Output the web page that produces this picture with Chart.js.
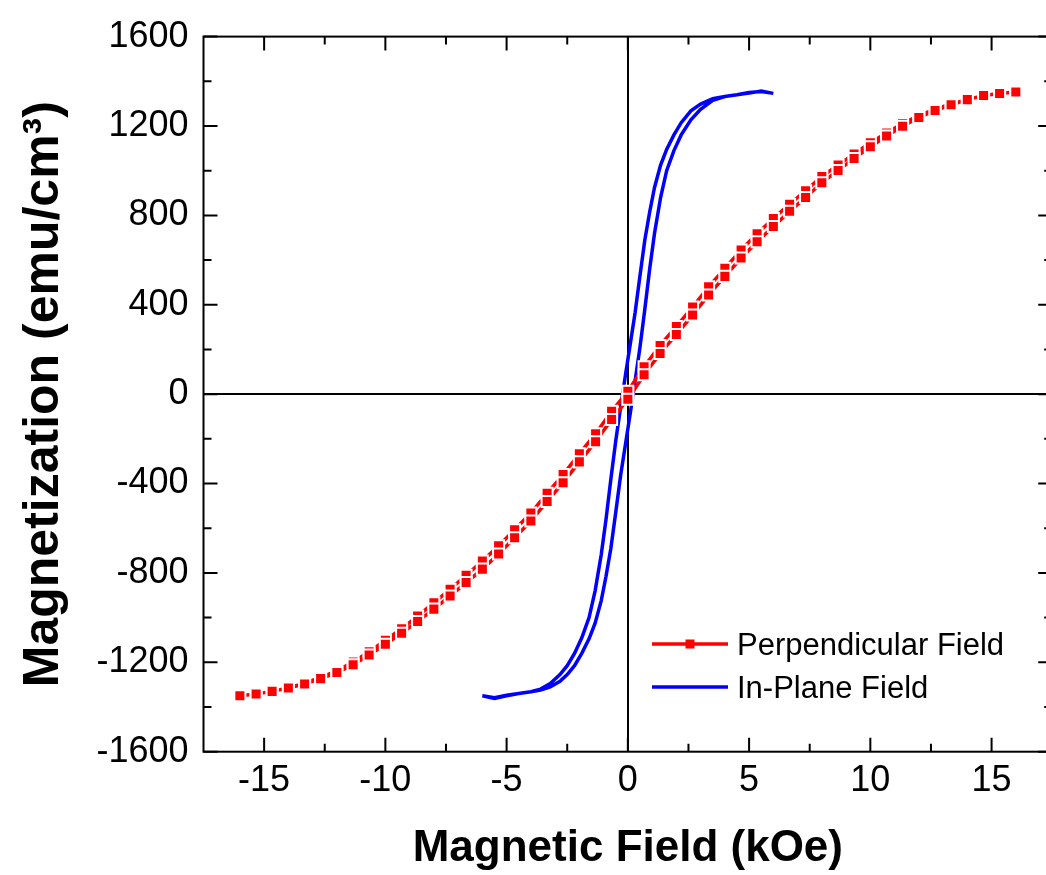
<!DOCTYPE html>
<html>
<head>
<meta charset="utf-8">
<script src="https://cdn.jsdelivr.net/npm/chart.js@4"></script>
<style>
  html, body { margin:0; padding:0; background:#fff; overflow:hidden; }
</style>
</head>
<body>
<canvas id="mh" width="1062" height="875"></canvas>
<script>
// Perpendicular field sweep (kOe), shared by both branches
var perpField = [-16, -15.33, -14.67, -14, -13.33, -12.67, -12, -11.33, -10.67, -10, -9.33, -8.67, -8, -7.33, -6.67, -6, -5.33, -4.67, -4, -3.33, -2.67, -2, -1.33, -0.67, 0, 0.67, 1.33, 2, 2.67, 3.33, 4, 4.67, 5.33, 6, 6.67, 7.33, 8, 8.67, 9.33, 10, 10.67, 11.33, 12, 12.67, 13.33, 14, 14.67, 15.33, 16];
// magnetization on the descending (+16 -> -16) and ascending (-16 -> +16) sweeps (emu/cm3)
var perpMomentDown = [-1350, -1342, -1330, -1315, -1293, -1267, -1238, -1199, -1153, -1101, -1050, -993, -934, -873, -811, -747, -679, -607, -532, -444, -360, -267, -177, -77, 13, 123, 218, 303, 390, 480, 563, 645, 718, 786, 850, 910, 974, 1025, 1075, 1125, 1169, 1211, 1246, 1275, 1299, 1318, 1336, 1345, 1352];
var perpMomentUp = [-1350, -1342, -1330, -1315, -1297, -1273, -1246, -1211, -1167, -1119, -1070, -1017, -962, -903, -843, -783, -715, -643, -568, -480, -396, -303, -213, -113, -23, 87, 182, 267, 354, 444, 527, 609, 682, 750, 818, 880, 946, 1001, 1055, 1107, 1155, 1199, 1238, 1269, 1295, 1318, 1336, 1345, 1352];

// In-plane loop
var ipFieldDown = [6.0, 5.5, 5.0, 4.5, 4.0, 3.5, 3.0, 2.6, 2.2, 1.9, 1.6, 1.35, 1.1, 0.9, 0.7, 0.5, 0.3, 0.1, -0.1, -0.3, -0.5, -0.7, -0.9, -1.1, -1.35, -1.6, -1.9, -2.2, -2.5, -2.8, -3.2, -3.6, -4.0, -4.5, -5.0, -5.5, -6.0];
var ipMomentDown = [1346, 1356, 1347, 1340, 1332, 1322, 1298, 1268, 1215, 1160, 1095, 1025, 925, 815, 690, 530, 365, 225, 85, -60, -210, -380, -560, -720, -880, -1000, -1090, -1160, -1215, -1255, -1295, -1320, -1332, -1340, -1350, -1362, -1350];
var ipFieldUp = [-6.0, -5.5, -5.0, -4.5, -4.0, -3.6, -3.2, -2.8, -2.5, -2.2, -1.9, -1.6, -1.35, -1.1, -0.9, -0.7, -0.5, -0.3, -0.1, 0.1, 0.3, 0.5, 0.7, 0.9, 1.1, 1.35, 1.6, 1.9, 2.2, 2.6, 3.0, 3.5, 4.0, 4.5, 5.0, 5.5, 6.0];
var ipMomentUp = [-1350, -1358, -1347, -1340, -1332, -1324, -1310, -1285, -1255, -1215, -1160, -1095, -1025, -925, -815, -690, -530, -365, -225, -85, 60, 210, 380, 560, 720, 880, 1000, 1090, 1160, 1228, 1275, 1315, 1332, 1340, 1350, 1354, 1346];

var seriesNames = ["Perpendicular Field", "In-Plane Field"];
var xMajor = [-15, -10, -5, 0, 5, 10, 15];
var xMinor = [-12.5, -7.5, -2.5, 2.5, 7.5, 12.5];
var yMajor = [-1600, -1200, -800, -400, 0, 400, 800, 1200, 1600];
var yMinor = [-1400, -1000, -600, -200, 200, 600, 1000, 1400];

var FONT = "'Liberation Sans', Arial, sans-serif";

function pairs(xs, ys) {
  var out = [];
  for (var i = 0; i < xs.length; i++) out.push({x: xs[i], y: ys[i]});
  return out;
}

// one continuous sweep: +16 down to -16, then back up to +16
var perpData = pairs(perpField.slice().reverse(), perpMomentDown.slice().reverse())
  .concat(pairs(perpField, perpMomentUp).slice(1));
var ipData = pairs(ipFieldDown, ipMomentDown).concat(pairs(ipFieldUp, ipMomentUp).slice(1));

// frame + inward ticks on all four sides, and the legend inside the plot
var frameTicks = {
  id: "frameTicks",
  afterDatasetsDraw: function(chart) {
    var ctx = chart.ctx, a = chart.chartArea;
    var xs = chart.scales.x, ys = chart.scales.y;
    ctx.save();
    ctx.strokeStyle = "#000";
    ctx.lineWidth = 2;
    ctx.strokeRect(a.left, a.top, a.right - a.left, a.bottom - a.top);
    ctx.beginPath();
    function xt(v, len) {
      var p = xs.getPixelForValue(v);
      ctx.moveTo(p, a.bottom); ctx.lineTo(p, a.bottom - len);
      ctx.moveTo(p, a.top); ctx.lineTo(p, a.top + len);
    }
    function yt(v, len) {
      var p = ys.getPixelForValue(v);
      ctx.moveTo(a.left, p); ctx.lineTo(a.left + len, p);
      ctx.moveTo(a.right, p); ctx.lineTo(a.right - len, p);
    }
    xMajor.forEach(function(v){ xt(v, 14); });
    xMinor.forEach(function(v){ xt(v, 8); });
    yMajor.forEach(function(v){ yt(v, 14); });
    yMinor.forEach(function(v){ yt(v, 8); });
    ctx.stroke();

    // legend
    var lx0 = 652, lx1 = 728, ly = [644, 687];
    ctx.lineWidth = 3.5;
    ctx.strokeStyle = "#ff0000";
    ctx.beginPath(); ctx.moveTo(lx0, ly[0]); ctx.lineTo(lx1, ly[0]); ctx.stroke();
    ctx.fillStyle = "#ff0000";
    ctx.fillRect(685.5, ly[0] - 4.5, 9, 9);
    ctx.strokeStyle = "#0000ff";
    ctx.beginPath(); ctx.moveTo(lx0, ly[1]); ctx.lineTo(lx1, ly[1]); ctx.stroke();
    ctx.fillStyle = "#000";
    ctx.font = "31px " + FONT;
    ctx.textAlign = "left";
    ctx.textBaseline = "alphabetic";
    ctx.fillText(seriesNames[0], 737, ly[0] + 11);
    ctx.fillText(seriesNames[1], 737, ly[1] + 11);
    ctx.restore();
  }
};

function zeroLine(c) {
  return c.tick && c.tick.value === 0 ? "#000" : "rgba(0,0,0,0)";
}

new Chart(document.getElementById("mh"), {
  type: "scatter",
  data: {
    datasets: [{
      label: seriesNames[0],
      data: perpData,
      showLine: true,
      borderColor: "#ff0000",
      borderWidth: 3.5,
      backgroundColor: "#ff0000",
      pointStyle: "rect",
      pointRadius: 7.8,
      pointBorderColor: "#ffffff",
      pointBorderWidth: 2,
      tension: 0
    }, {
      label: seriesNames[1],
      data: ipData,
      showLine: true,
      borderColor: "#0000ff",
      borderWidth: 3.5,
      pointRadius: 0,
      tension: 0
    }]
  },
  options: {
    responsive: false,
    animation: false,
    layout: { padding: { left: 0, right: 9, top: 35, bottom: 0 } },
    plugins: { legend: { display: false }, tooltip: { enabled: false } },
    scales: {
      x: {
        type: "linear", min: -17.5, max: 17.5,
        afterBuildTicks: function(s){ s.ticks = xMajor.map(function(v){ return {value: v}; }); },
        ticks: { padding: 8, color: "#000", maxRotation: 0, autoSkip: false,
                 font: { family: FONT, size: 36 }, callback: function(v){ return String(v); } },
        grid: { drawTicks: false, lineWidth: 2, color: zeroLine },
        border: { display: false },
        title: { display: true, text: "Magnetic Field (kOe)", color: "#000",
                 font: { family: FONT, size: 44, weight: "bold" }, padding: { top: 0, bottom: 0 } },
        afterFit: function(s){ s.height = 875 - 751.7; }
      },
      y: {
        min: -1600, max: 1600,
        afterBuildTicks: function(s){ s.ticks = yMajor.map(function(v){ return {value: v}; }); },
        ticks: { padding: 15, color: "#000",
                 font: { family: FONT, size: 36 }, callback: function(v){ return String(v); } },
        grid: { drawTicks: false, lineWidth: 2, color: zeroLine },
        border: { display: false },
        title: { display: true, text: "Magnetization (emu/cm\u00B3)", color: "#000",
                 font: { family: FONT, size: 50, weight: "bold" }, padding: { top: 14, bottom: 0 } },
        afterFit: function(s){ s.width = 203.5; }
      }
    }
  },
  plugins: [frameTicks]
});
</script>
</body>
</html>
